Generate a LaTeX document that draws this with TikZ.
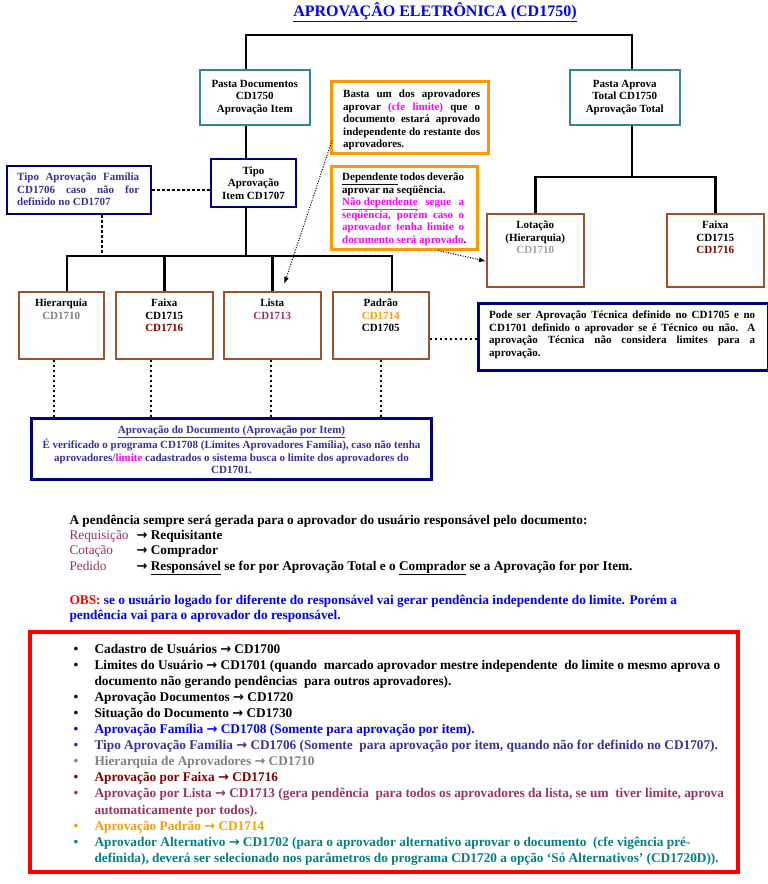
\documentclass[tikz,border=0pt]{standalone}
\usepackage{fontspec}
\setmainfont{Liberation Serif}
\newfontfamily\arrowfont{DejaVu Sans}
\usetikzlibrary{arrows.meta}

\definecolor{tealbd}{RGB}{49,133,155}
\definecolor{navybd}{RGB}{0,0,128}
\definecolor{brownbd}{RGB}{160,82,45}
\definecolor{orangebd}{RGB}{255,153,0}
\definecolor{famblue}{RGB}{51,51,153}
\definecolor{mag}{RGB}{255,0,255}
\definecolor{cdgray}{RGB}{128,128,128}
\definecolor{cdlight}{RGB}{160,160,160}
\definecolor{cdred}{RGB}{128,0,0}
\definecolor{plum}{RGB}{153,51,102}
\definecolor{cdteal}{RGB}{0,128,128}

\newcommand{\boxfont}{\fontsize{11}{12.5}\selectfont\bfseries}
\newcommand{\listfont}{\fontsize{13.3}{16}\selectfont\bfseries}
\newcommand{\fullline}[2]{\makebox[#1][s]{#2}}
\newcommand{\arr}{{\arrowfont\bfseries\fontsize{13}{14}\selectfont →}}

\tikzset{
  tree/.style={line width=2.5pt},
  dotline/.style={line width=2.5pt, dash pattern=on 2.5pt off 2.5pt},
  dotarrow/.style={line width=1pt, dash pattern=on 1pt off 1.5pt, -{Latex[length=7pt,width=5pt]}},
  tealbox/.style={draw=tealbd, line width=1.5pt, fill=white, align=center, font=\boxfont, anchor=north west},
  navybox/.style={draw=navybd, line width=2pt, fill=white, align=center, font=\boxfont, anchor=north west},
  brownbox/.style={draw=brownbd, line width=1.5pt, fill=white, anchor=north west},
  orangebox/.style={draw=orangebd, line width=2.5pt, fill=white, anchor=north west},
  boxtxt/.style={font=\boxfont, align=center, inner sep=0pt},
  notetxt/.style={font=\boxfont, align=left, inner sep=0pt, anchor=north west}
}

\begin{document}
\begin{tikzpicture}[x=1pt, y=-1pt]
\useasboundingbox (0,0) rectangle (768,884);

% Title
\node[font=\fontsize{16}{18}\selectfont\bfseries, text=blue] (title) at (435,12) {\underline{APROVAÇÂO ELETRÔNICA (CD1750)}};

% Top folders
\node[tealbox, minimum width=110pt, minimum height=55pt] (pdoc) at (199,69) {Pasta Documentos\\CD1750\\Aprovação Item};
\node[tealbox, minimum width=110pt, minimum height=55pt] (paprova) at (569,69) {Pasta Aprova\\Total CD1750\\Aprovação Total};

% Notes on the approval rules
\node[orangebox, minimum width=157pt, minimum height=72pt] (basta) at (330,80) {};
\node[notetxt] (basta-t) at ([xshift=13pt,yshift=-10pt]basta.north west) {\fullline{137pt}{Basta um dos aprovadores}\\
  \fullline{137pt}{aprovar \textcolor{mag}{(cfe limite)} que o}\\
  \fullline{137pt}{documento estará aprovado}\\
  \fullline{137pt}{independente do restante dos}\\
  aprovadores.};
\node[orangebox, minimum width=146pt, minimum height=83pt] (dep) at (330,165) {};
\node[notetxt] (dep-t) at ([xshift=12pt,yshift=-8pt]dep.north west) {\fullline{122pt}{\underline{Dependente} todos deverão}\\
  aprovar na seqüência.\\
  \textcolor{mag}{\fullline{122pt}{\underline{Não dependente} segue a}}\\
  \textcolor{mag}{\fullline{122pt}{seqüência, porém caso o}}\\
  \textcolor{mag}{\fullline{122pt}{aprovador tenha limite o}}\\
  \textcolor{mag}{documento será aprovado}.};

% Item approval type
\node[navybox, minimum width=85pt, minimum height=48pt] (tipo) at (210,158) {Tipo\\Aprovação\\Item CD1707};
\node[navybox, minimum width=144pt, minimum height=48pt] (famil) at (6,165) {};
\node[notetxt, text=famblue] (famil-t) at ([xshift=11pt,yshift=-8pt]famil.north west) {\fullline{122pt}{Tipo Aprovação Família}\\
  \fullline{122pt}{CD1706 caso não for}\\
  definido no CD1707};

% Approval by item: the four kinds
\foreach \n/\x/\w/\t in {hier/18/85/{Hierarquia\\\textcolor{cdgray}{CD1710}},
    faixa/115/97/{Faixa\\CD1715\\\textcolor{cdred}{CD1716}},
    lista/223/97/{Lista\\\textcolor{plum}{CD1713}},
    padrao/332/96/{Padrão\\\textcolor{orangebd}{CD1714}\\CD1705}} {
  \node[brownbox, minimum width=\w pt, minimum height=67pt] (\n) at (\x,291) {};
  \node[boxtxt, anchor=north] (\n-t) at ([yshift=-8pt]\n.north) {\t};
}

% Total approval
\node[brownbox, minimum width=97pt, minimum height=73pt] (lotacao) at (486,213) {};
\node[boxtxt, anchor=north] (lotacao-t) at ([yshift=-8pt]lotacao.north) {Lotação\\(Hierarquia)\\\textcolor{cdlight}{CD1710}};
\node[brownbox, minimum width=97pt, minimum height=73pt] (faixa2) at (666,213) {};
\node[boxtxt, anchor=north] (faixa2-t) at ([yshift=-8pt]faixa2.north) {Faixa\\CD1715\\\textcolor{cdred}{CD1716}};

% Technical approval note
\node[navybox, line width=3pt, minimum width=290pt, minimum height=67pt] (pode) at (477,302) {};
\node[notetxt] (pode-t) at ([xshift=12pt,yshift=-9pt]pode.north west) {\fullline{266pt}{Pode ser Aprovação Técnica definido no CD1705 e no}\\
  \fullline{266pt}{CD1701 definido o aprovador se é Técnico ou não. A}\\
  \fullline{266pt}{aprovação Técnica não considera limites para a}\\
  aprovação.};

% Document approval note
\node[navybox, line width=3pt, minimum width=400pt, minimum height=61pt] (doc) at (30,417) {};
\node[boxtxt, anchor=north, text=famblue] (doc-t) at ([yshift=-9pt]doc.north) {\underline{Aprovação do Documento (Aprovação por Item)}\\
  É verificado o programa CD1708 (Limites Aprovadores Família), caso não tenha\\
  aprovadores/\textcolor{mag}{limite} cadastrados o sistema busca o limite dos aprovadores do\\
  CD1701.};

% Tree lines
\coordinate (trunk) at (246,35);
\coordinate (rtrunk) at (632,35);
\draw[tree] (pdoc.north -| trunk) -- (trunk) -- (rtrunk) -- (paprova.north -| rtrunk);
\draw[tree] (pdoc.south -| trunk) -- (tipo.north -| trunk);
\coordinate (lbar) at (246,256);
\coordinate (bl) at (67,256);
\coordinate (br) at (392,256);
\draw[tree] (tipo.south -| lbar) -- (lbar);
\draw[tree] (hier.north -| bl) |- (br) -- (padrao.north -| br);
\draw[tree] (faixa.north) -- (faixa.north |- bl);
\draw[tree] (lista.north) -- (lista.north |- bl);
\coordinate (rbar) at (632,177);
\draw[tree] (paprova.south -| rbar) -- (rbar);
\draw[tree] (lotacao.north) |- (rbar) -| (faixa2.north);

% Dotted links
\draw[dotline] (famil.east) -- (famil.east -| tipo.west);
\coordinate (fdot) at (102,256);
\draw[dotline] (famil.south -| fdot) -- (fdot);
\foreach \b/\x in {hier/54, faixa/151, lista/271, padrao/381}
  \draw[dotline] (\b.south -| \x,0) -- (doc.north -| \x,0);
\coordinate (tdot) at (0,339);
\draw[dotline] (padrao.east |- tdot) -- (pode.west |- tdot);
\draw[dotarrow] ([xshift=2pt,yshift=14pt]basta.south west) -- ([xshift=12pt,yshift=7pt]lista.north);
\draw[dotarrow] ([xshift=34pt]dep.south) -- ([yshift=-11pt]lotacao.west);

% Who gets the pending item
\node[anchor=base west, font=\listfont] (pend) at (66,524) {A pendência sempre será gerada para o aprovador do usuário responsável pelo documento:};
\foreach \i/\a/\b in {0/Requisição/{Requisitante}, 1/Cotação/{Comprador},
    2/Pedido/{\underline{Responsável} se for por Aprovação Total e o \underline{Comprador} se a Aprovação for por Item.}} {
  \node[anchor=base west, font=\fontsize{13.3}{16}\selectfont, text=plum] (kind\i) at (66,539.5+15.3*\i) {\a};
  \node[anchor=base west, font=\listfont] (dest\i) at (133,539.5+15.3*\i) {\arr\ \b};
}
\node[anchor=base west, font=\listfont, text=blue] (obs) at (66,604) {\textcolor{red}{OBS:} se o usuário logado for diferente do responsável vai gerar pendência independente do limite. Porém a};
\node[anchor=base west, font=\listfont, text=blue] (obs2) at (66,619) {pendência vai para o aprovador do responsável.};

% Program list
\draw[draw=red, line width=3.5pt] (30,632) rectangle (738,872);
\foreach \i/\b/\c/\t in {
  0/1/black/{Cadastro de Usuários \arr\ CD1700},
  1/1/black/{Limites do Usuário \arr\ CD1701 (quando \ marcado aprovador mestre independente \ do limite o mesmo aprova o},
  2/0/black/{documento não gerando pendências \ para outros aprovadores).},
  3/1/black/{Aprovação Documentos \arr\ CD1720},
  4/1/black/{Situação do Documento \arr\ CD1730},
  5/1/blue/{Aprovação Família \arr\ CD1708 (Somente para aprovação por item).},
  6/1/famblue/{Tipo Aprovação Família \arr\ CD1706 (Somente \ para aprovação por item, quando não for definido no CD1707).},
  7/1/cdgray/{Hierarquia de Aprovadores \arr\ CD1710},
  8/1/cdred/{Aprovação por Faixa \arr\ CD1716},
  9/1/plum/{Aprovação por Lista \arr\ CD1713 (gera pendência \ para todos os aprovadores da lista, se um \ tiver limite, aprova},
  10/0/plum/{automaticamente por todos).},
  11/1/orangebd/{Aprovação Padrão \arr\ CD1714},
  12/1/cdteal/{Aprovador Alternativo \arr\ CD1702 (para o aprovador alternativo aprovar o documento \ (cfe vigência pré-},
  13/0/cdteal/{definida), deverá ser selecionado nos parâmetros do programa CD1720 a opção ‘Só Alternativos’ (CD1720D)).}} {
  \ifnum\b=1
    \node[anchor=base west, font=\listfont, text=\c] (bu\i) at (70,653+16.1*\i) {•};
  \fi
  \node[anchor=base west, font=\listfont, text=\c] (li\i) at (91,653+16.1*\i) {\t};
}
\end{tikzpicture}
\end{document}
